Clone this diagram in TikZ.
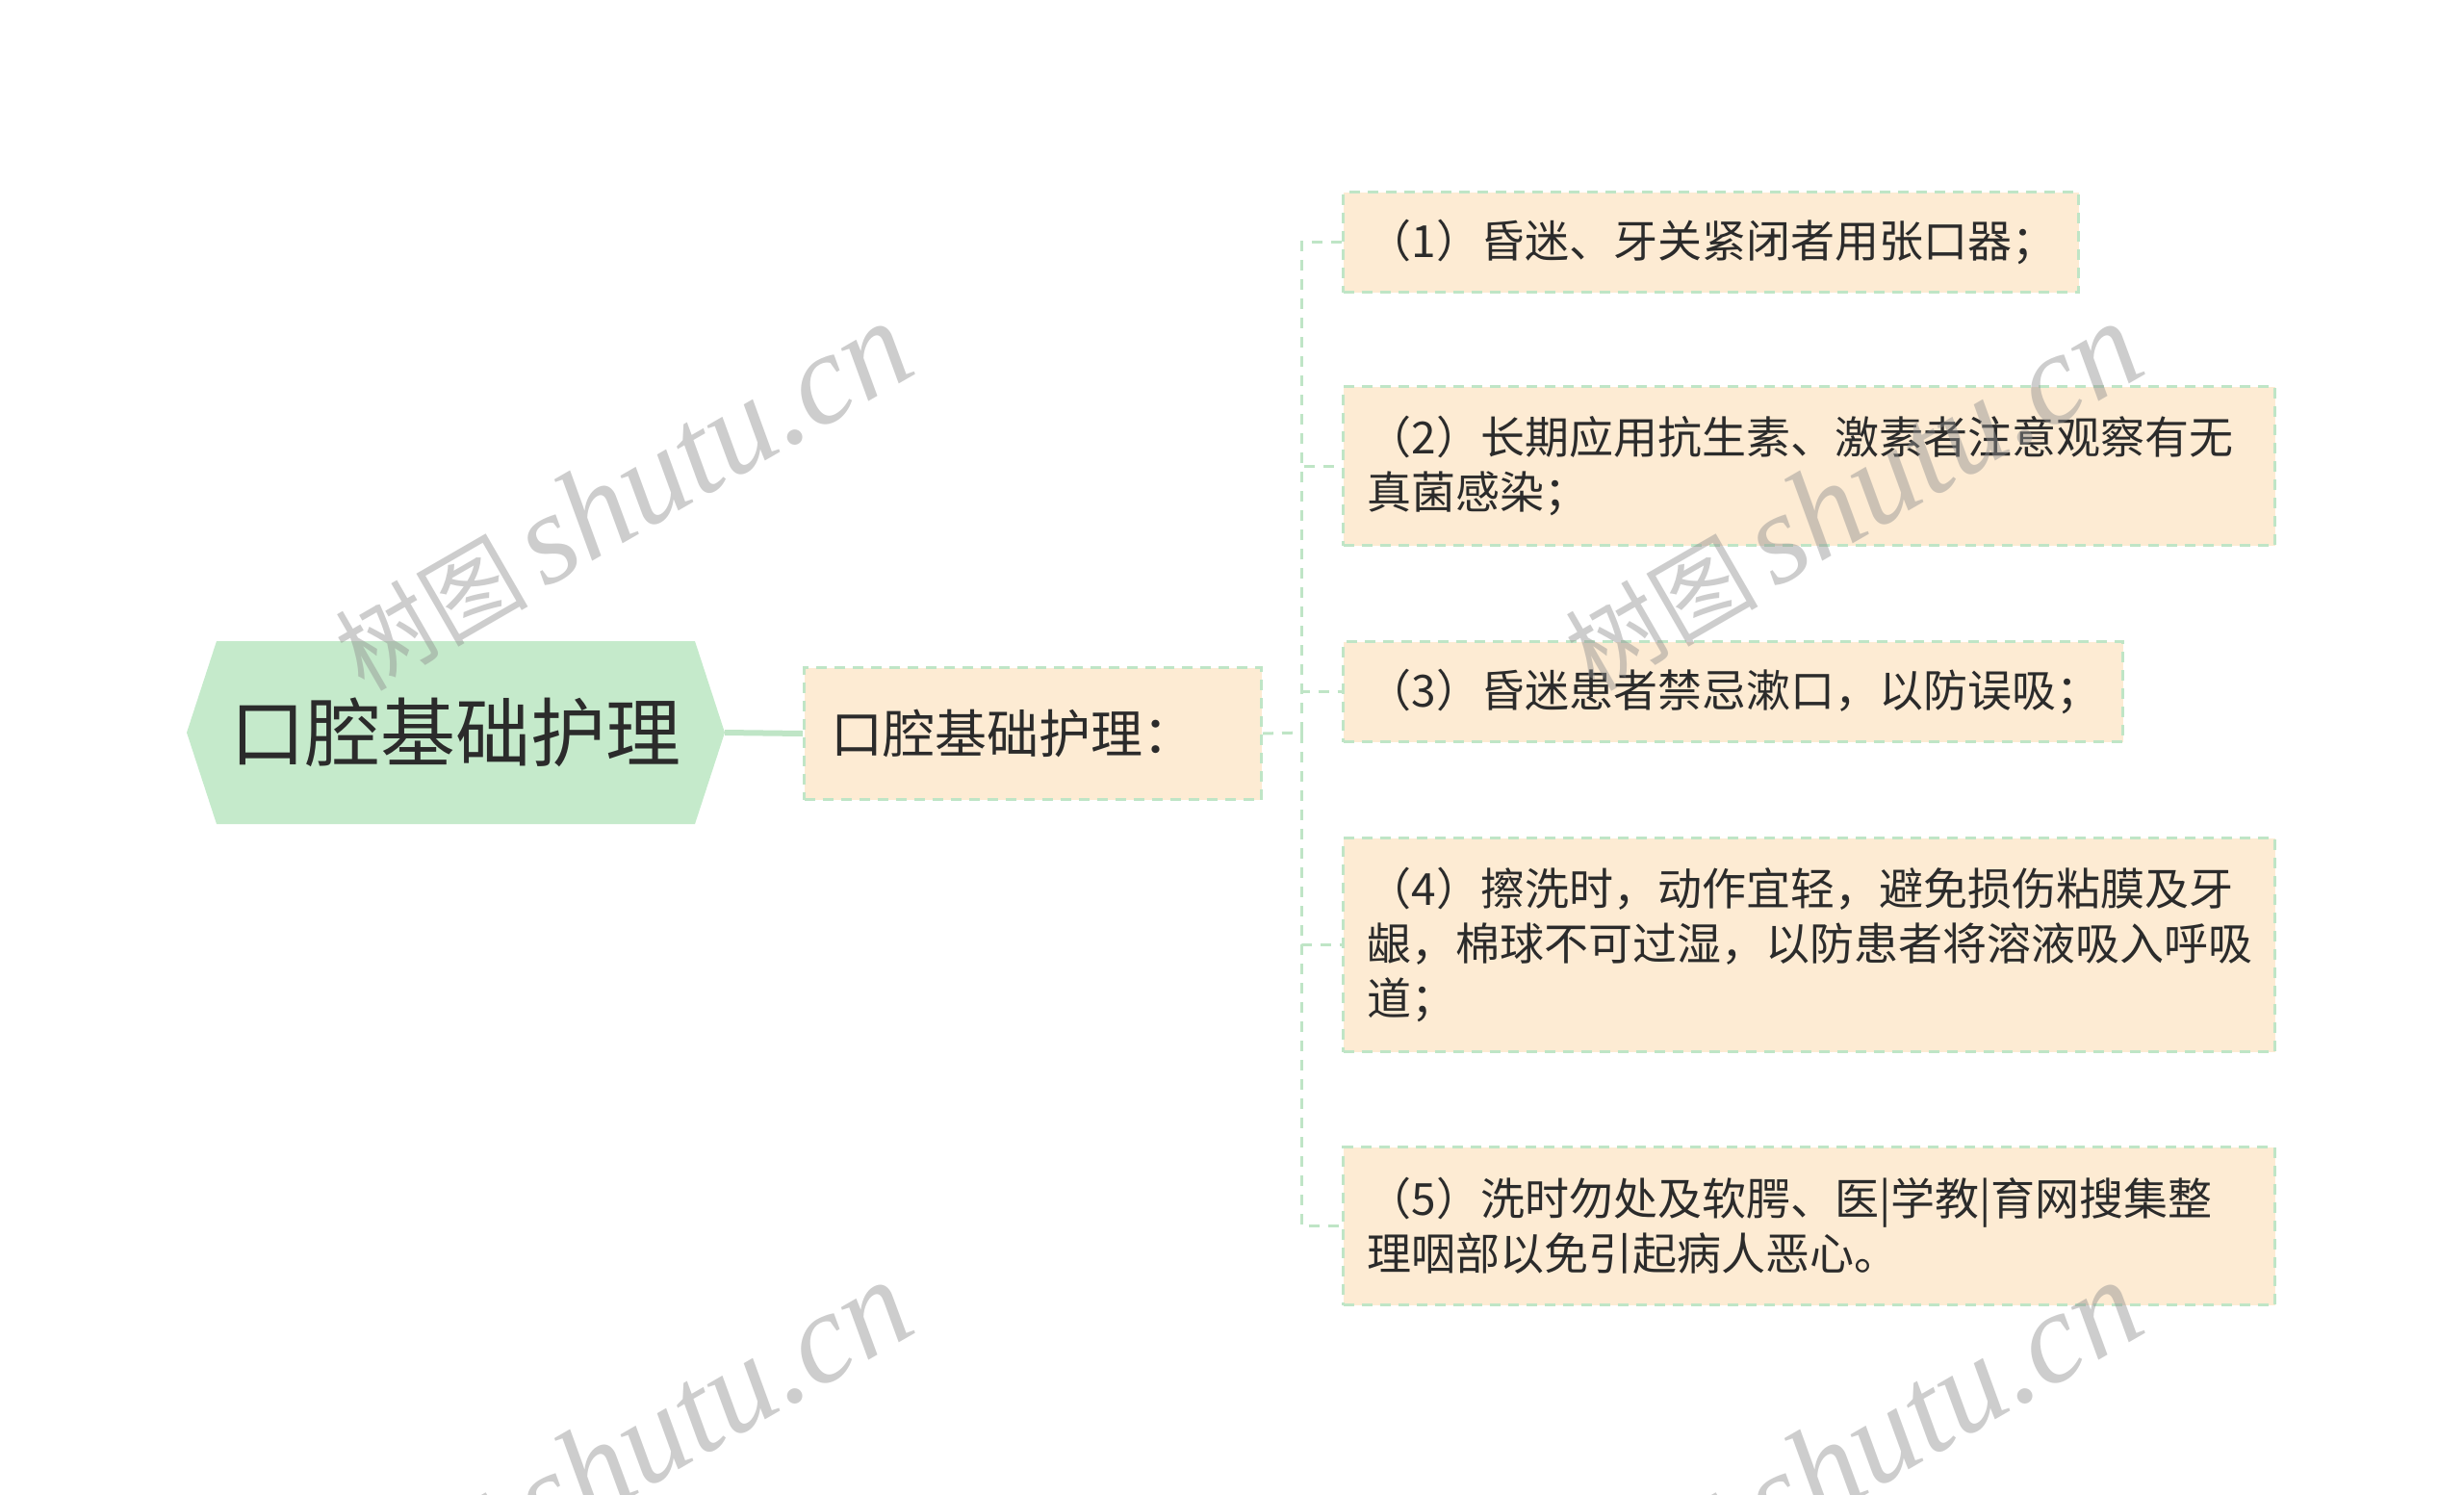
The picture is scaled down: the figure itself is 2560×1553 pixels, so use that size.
\documentclass[tikz,border=0pt]{standalone}
\usepackage{fontspec}
\newfontfamily\cjk{Noto Sans CJK SC}
\newfontfamily\wmserif{Liberation Serif}
\definecolor{rootfill}{HTML}{C5EACB}
\definecolor{leaffill}{HTML}{FDEBD3}
\definecolor{linegreen}{HTML}{BFE5C6}
\definecolor{txt}{HTML}{2B2B2B}
\definecolor{wmgray}{HTML}{909090}
\tikzset{
  leafbox/.style={draw=linegreen, fill=leaffill, line width=3pt, dash pattern=on 11pt off 8pt,
    anchor=north west, inner xsep=25pt, inner ysep=0pt, align=left, text=txt,
    font=\cjk\fontsize{46}{57}\selectfont},
  midbox/.style={draw=linegreen, fill=leaffill, line width=3pt, dash pattern=on 11pt off 8pt,
    anchor=north west, inner xsep=28pt, inner ysep=0pt, align=left, text=txt,
    font=\cjk\fontsize{54}{64}\selectfont},
  rootbox/.style={inner sep=0pt, text=txt, font=\cjk\fontsize{78}{90}\selectfont},
  conn/.style={draw=linegreen, line width=6pt},
  dconn/.style={draw=linegreen, line width=3pt, dash pattern=on 11pt off 9pt},
  wm/.style={text=wmgray, opacity=0.45, rotate=30, inner sep=0pt}
}
\begin{document}
\begin{tikzpicture}[x=1pt,y=-1pt]
\useasboundingbox (0,0) rectangle (2560,1553);
% root hexagon
\fill[rootfill] (194,761) -- (225,666) -- (722,666) -- (753,761) -- (722,856) -- (225,856) -- cycle;
\node[rootbox, minimum width=559pt, minimum height=190pt] (root) at (473.5,761) {口腔基础护理};
% middle node
\node[midbox, text width=419pt, minimum height=137pt] (mid) at (834,692) {口腔基础护理：};
% leaves
\node[leafbox, text width=714pt, minimum height=104pt] (l1) at (1394,198) {（1）昏迷、牙关紧闭者用张口器；};
\node[leafbox, text width=918pt, minimum height=165pt] (l2) at (1394,400) {（2）长期应用抗生素、激素者注意观察有无\\真菌感染；};
\node[leafbox, text width=760pt, minimum height=104pt] (l3) at (1394,665) {（3）昏迷患者禁忌漱口，以防误吸；};
\node[leafbox, text width=918pt, minimum height=222pt] (l4) at (1394,869) {（4）擦洗时，动作宜轻，避免损伤粘膜及牙\\龈，棉球不可过湿，以防患者将溶液吸入呼吸\\道；};
\node[leafbox, text width=918pt, minimum height=164pt] (l5) at (1394,1190) {（5）洗时勿处及软腭、医|学教|育网搜集整\\理咽部以免引起病人恶心。};
% connectors
\draw[conn] (root.east) -- (mid.west);
\coordinate (j) at (1352,761);
\draw[dconn] (mid.east) -- (j);
\foreach \n in {l1,l2,l3,l4,l5} {\draw[dconn] (j) |- (\n.west);}
% watermarks
\foreach \p in {(646,516),(1924,516),(646,1512),(1924,1512)} {
  \node[wm] at \p {\cjk\fontsize{100}{100}\selectfont 树图\,\wmserif\itshape\fontsize{134}{134}\selectfont shutu.cn};
}
\end{tikzpicture}
\end{document}
